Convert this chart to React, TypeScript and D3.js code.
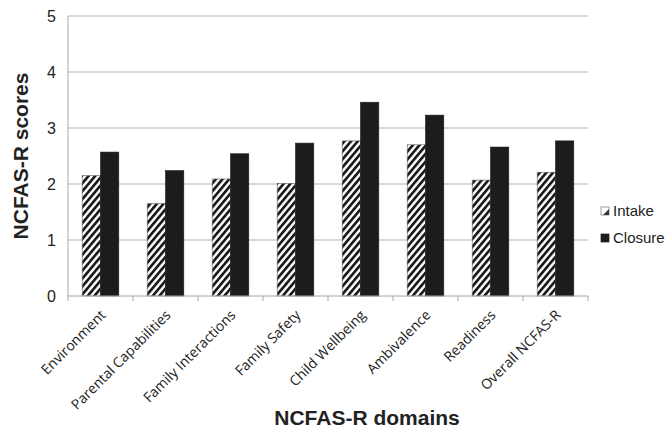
import React from 'react'
import * as d3 from 'd3'

// values
const domains: string[] = [
  'Environment',
  'Parental Capabilities',
  'Family Interactions',
  'Family Safety',
  'Child Wellbeing',
  'Ambivalence',
  'Readiness',
  'Overall NCFAS-R'
]
const seriesNames: string[] = ['Intake', 'Closure']
const intake: number[] = [2.15, 1.65, 2.09, 2.01, 2.77, 2.7, 2.07, 2.21]
const closure: number[] = [2.57, 2.24, 2.54, 2.73, 3.46, 3.23, 2.66, 2.77]
const yTicks: number[] = [0, 1, 2, 3, 4, 5]

/**
 * CHART POSITIONING CONSTANTS
 */
const W = 668
const H = 433
const plot = { left: 68, right: 588, top: 16, bottom: 296 }

const App = () => {
  const x0 = d3.scaleBand<string>().domain(domains).range([plot.left, plot.right]).padding(0)
  const x1 = d3.scaleBand<string>()
    .domain(seriesNames)
    .range([0, x0.bandwidth()])
    .paddingInner(0)
    .paddingOuter(0.776)
  const y = d3.scaleLinear().domain([0, 5]).range([plot.bottom, plot.top])

  const values: Record<string, number[]> = { Intake: intake, Closure: closure }
  const boundaries = [...domains.map(d => x0(d) as number), plot.right]

  return (
    <svg
      width={W}
      height={H}
      viewBox={`0 0 ${W} ${H}`}
      style={{ position: 'absolute', left: 0, top: 0, background: '#fff' }}
      fontFamily='"Liberation Sans", Arial, sans-serif'
    >
      <defs>
        <pattern id='hatch' patternUnits='userSpaceOnUse' width={5.1} height={5.1} patternTransform='rotate(40)'>
          <rect width={5.1} height={5.1} fill='#fff' />
          <rect width={2.7} height={5.1} fill='#1a1a1a' />
        </pattern>
      </defs>

      {/* gridlines */}
      {yTicks.filter(t => t > 0).map(t => (
        <line key={t} x1={plot.left} x2={plot.right} y1={y(t)} y2={y(t)} stroke='#b3b3b3' strokeWidth={1} />
      ))}

      {/* bars */}
      {domains.map((d, i) => (
        <g key={d} transform={`translate(${x0(d)},0)`}>
          {seriesNames.map(s => (
            <rect
              key={s}
              x={x1(s)}
              y={y(values[s][i])}
              width={x1.bandwidth()}
              height={y(0) - y(values[s][i])}
              fill={s === 'Intake' ? 'url(#hatch)' : '#1c1c1c'}
              stroke={s === 'Intake' ? '#666' : '#1c1c1c'}
              strokeWidth={0.6}
            />
          ))}
        </g>
      ))}

      {/* axes */}
      <line x1={plot.left} x2={plot.left} y1={plot.top} y2={plot.bottom} stroke='#a6a6a6' />
      <line x1={plot.left} x2={plot.right} y1={plot.bottom} y2={plot.bottom} stroke='#a6a6a6' />
      {boundaries.map((b, i) => (
        <line key={i} x1={b} x2={b} y1={plot.bottom} y2={plot.bottom + 5} stroke='#a6a6a6' />
      ))}

      {yTicks.map(t => (
        <text key={t} x={56} y={y(t)} dy='0.35em' textAnchor='end' fontSize={16} fill='#222'>
          {t}
        </text>
      ))}

      {domains.map(d => {
        const cx = (x0(d) as number) + x0.bandwidth() / 2 + 6
        const cy = plot.bottom + 20
        return (
          <text
            key={d}
            x={cx}
            y={cy}
            textAnchor='end'
            fontSize={14}
            fontFamily='"Open Sans", "Noto Sans", sans-serif'
            fill='#222'
            transform={`rotate(-45, ${cx}, ${cy})`}
          >
            {d}
          </text>
        )
      })}

      {/* axis titles */}
      <text
        x={28}
        y={156}
        textAnchor='middle'
        fontSize={21}
        fontWeight='bold'
        fill='#222'
        transform='rotate(-90, 28, 156)'
      >
        NCFAS-R scores
      </text>
      <text x={367} y={425} textAnchor='middle' fontSize={21} fontWeight='bold' fill='#222'>
        NCFAS-R domains
      </text>

      {/* legend */}
      {seriesNames.map((s, i) => {
        const ly = 211 + i * 27
        return (
          <g key={s}>
            <rect
              x={601}
              y={ly - 4}
              width={8}
              height={8}
              fill={s === 'Intake' ? '#fff' : '#1c1c1c'}
              stroke={s === 'Intake' ? '#777' : '#1c1c1c'}
              strokeWidth={0.7}
            />
            {s === 'Intake' && (
              <path d={`M${609},${ly - 2} L${609},${ly + 4} L${603},${ly + 4} Z`} fill='#333' />
            )}
            <text x={613} y={ly} dy='0.36em' fontSize={15} fill='#222'>{s}</text>
          </g>
        )
      })}
    </svg>
  )
}

export default App
